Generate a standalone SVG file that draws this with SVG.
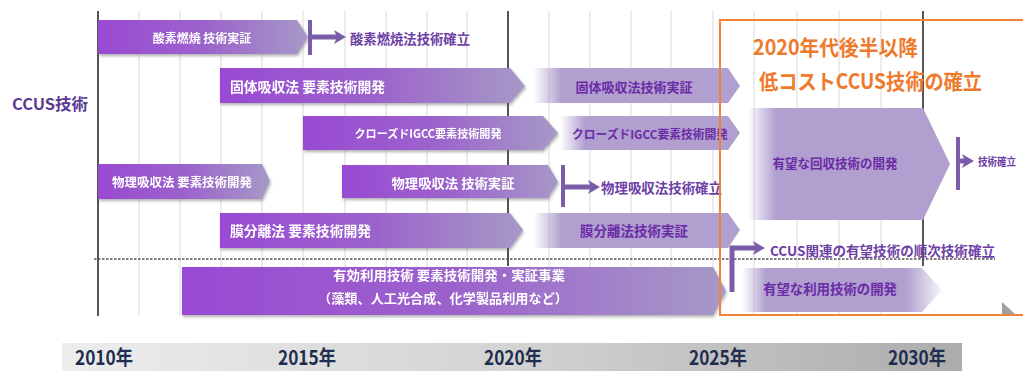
<svg xmlns="http://www.w3.org/2000/svg" width="1023" height="371" viewBox="0 0 1023 371">
<style>
text{font-family:"Noto Sans CJK JP","Noto Sans",sans-serif;}
.w{fill:#ffffff;font-weight:bold;}
.f{fill:#6B2BA6;font-weight:bold;}
.p{fill:#6E3FA6;font-weight:bold;}
.yr{fill:#1F2D4F;font-weight:bold;font-size:20px;}
.or{fill:#EE7A2C;font-weight:bold;font-size:21px;}
.grid{stroke:#d9d9d9;stroke-width:1;}
.dark{stroke:#555;stroke-width:2;}
.conn{stroke:#7B5CA8;fill:none;}
</style>
<defs>
<linearGradient id="gv" x1="0" y1="0" x2="1" y2="0">
<stop offset="0" stop-color="#994AD3"/>
<stop offset="0.5" stop-color="#9C62CC"/>
<stop offset="1" stop-color="#A699C7"/>
</linearGradient>
<linearGradient id="gf" x1="0" y1="0" x2="1" y2="0">
<stop offset="0" stop-color="#B09FCF" stop-opacity="0"/>
<stop offset="0.14" stop-color="#B09FCF" stop-opacity="1"/>
<stop offset="1" stop-color="#B09FCF" stop-opacity="1"/>
</linearGradient>
<linearGradient id="gf2" x1="0" y1="0" x2="1" y2="0">
<stop offset="0" stop-color="#B09FCF" stop-opacity="0"/>
<stop offset="0.12" stop-color="#B09FCF" stop-opacity="1"/>
<stop offset="0.82" stop-color="#B09FCF" stop-opacity="1"/>
<stop offset="1" stop-color="#B09FCF" stop-opacity="0.1"/>
</linearGradient>
<linearGradient id="gax" x1="0" y1="0" x2="1" y2="0">
<stop offset="0" stop-color="#ededed"/>
<stop offset="0.5" stop-color="#d3d3d3"/>
<stop offset="1" stop-color="#acacac"/>
</linearGradient>
<filter id="sh" x="-5%" y="-20%" width="110%" height="150%">
<feDropShadow dx="1" dy="2" stdDeviation="1.5" flood-color="#555" flood-opacity="0.45"/>
</filter>
<marker id="ah" viewBox="0 0 12 14" refX="4" refY="7" markerWidth="12" markerHeight="14" markerUnits="userSpaceOnUse" orient="auto">
<path d="M0,0 L12,7 L0,14 L3,7 Z" fill="#7B5CA8"/>
</marker>
</defs>

<rect width="1023" height="371" fill="#ffffff"/>

<g id="grid">
<line class="grid" x1="139" y1="11" x2="139" y2="315"/>
<line class="grid" x1="180" y1="11" x2="180" y2="315"/>
<line class="grid" x1="221" y1="11" x2="221" y2="315"/>
<line class="grid" x1="262" y1="11" x2="262" y2="315"/>
<line class="grid" x1="303" y1="11" x2="303" y2="315"/>
<line class="grid" x1="345" y1="11" x2="345" y2="315"/>
<line class="grid" x1="386" y1="11" x2="386" y2="315"/>
<line class="grid" x1="427" y1="11" x2="427" y2="315"/>
<line class="grid" x1="467" y1="11" x2="467" y2="315"/>
<line class="grid" x1="549" y1="11" x2="549" y2="315"/>
<line class="grid" x1="590" y1="11" x2="590" y2="315"/>
<line class="grid" x1="631" y1="11" x2="631" y2="315"/>
<line class="grid" x1="671" y1="11" x2="671" y2="315"/>
<line class="grid" x1="713" y1="11" x2="713" y2="315"/>
<line class="grid" x1="754" y1="11" x2="754" y2="315"/>
<line class="grid" x1="797" y1="11" x2="797" y2="315"/>
<line class="grid" x1="839" y1="11" x2="839" y2="315"/>
<line class="grid" x1="881" y1="11" x2="881" y2="315"/>
<line class="dark" x1="98" y1="11" x2="98" y2="316"/>
<line class="dark" x1="508" y1="11" x2="508" y2="266"/>
<line class="dark" x1="923" y1="11" x2="923" y2="266"/>
<line x1="94" y1="259" x2="995" y2="259" stroke="#555" stroke-width="1.6" stroke-dasharray="2.5 1.5"/>
</g>

<g id="label-ccus">
<text x="12" y="103" font-size="16" font-weight="bold" fill="#5A3A92" dominant-baseline="central" textLength="76" lengthAdjust="spacingAndGlyphs">CCUS技術</text>
</g>

<g id="oxy-demo" filter="url(#sh)">
<polygon points="98,20 297,20 308,37 297,54 98,54" fill="url(#gv)"/>
<text class="w" x="202" y="37" font-size="12" text-anchor="middle" dominant-baseline="central">酸素燃焼 技術実証</text>
</g>
<g id="oxy-est">
<text class="p" x="350" y="38" font-size="13.5" dominant-baseline="central" textLength="120" lengthAdjust="spacingAndGlyphs">酸素燃焼法技術確立</text>
</g>

<g id="solid-dev" filter="url(#sh)">
<polygon points="220,68 510,68 525,86 510,103 220,103" fill="url(#gv)"/>
<text class="w" x="230" y="86" font-size="14" dominant-baseline="central" textLength="155" lengthAdjust="spacingAndGlyphs">固体吸収法 要素技術開発</text>
</g>
<g id="solid-demo">
<polygon points="533,68 728,68 740,86 728,103 533,103" fill="url(#gf)"/>
<text class="f" x="634" y="86" font-size="13" text-anchor="middle" dominant-baseline="central">固体吸収法技術実証</text>
</g>

<g id="igcc-dev" filter="url(#sh)">
<polygon points="303,116 543,116 558,133 543,150 303,150" fill="url(#gv)"/>
<text class="w" x="428" y="133" font-size="11" text-anchor="middle" dominant-baseline="central" textLength="147" lengthAdjust="spacingAndGlyphs">クローズドIGCC要素技術開発</text>
</g>
<g id="igcc-next">
<polygon points="560,116 728,116 740,133 728,150 560,150" fill="url(#gf)"/>
<text class="f" x="650" y="133" font-size="12" text-anchor="middle" dominant-baseline="central" textLength="156" lengthAdjust="spacingAndGlyphs">クローズドIGCC要素技術開発</text>
</g>

<g id="phys-dev" filter="url(#sh)">
<polygon points="98,164 262,164 270,181 262,199 98,199" fill="url(#gv)"/>
<text class="w" x="182" y="181" font-size="12.5" text-anchor="middle" dominant-baseline="central" textLength="140" lengthAdjust="spacingAndGlyphs">物理吸収法 要素技術開発</text>
</g>
<g id="phys-demo" filter="url(#sh)">
<polygon points="342,165 548,165 558,182 548,198 342,198" fill="url(#gv)"/>
<text class="w" x="453" y="182" font-size="13" text-anchor="middle" dominant-baseline="central" textLength="123" lengthAdjust="spacingAndGlyphs">物理吸収法 技術実証</text>
</g>
<g id="phys-est">
<text class="p" x="601" y="187" font-size="13.5" dominant-baseline="central" textLength="121" lengthAdjust="spacingAndGlyphs">物理吸収法技術確立</text>
</g>

<g id="memb-dev" filter="url(#sh)">
<polygon points="220,213 510,213 523,230 510,248 220,248" fill="url(#gv)"/>
<text class="w" x="230" y="230" font-size="14" dominant-baseline="central" textLength="141" lengthAdjust="spacingAndGlyphs">膜分離法 要素技術開発</text>
</g>
<g id="memb-demo">
<polygon points="533,213 728,213 740,230 728,248 533,248" fill="url(#gf)"/>
<text class="f" x="634" y="230" font-size="13.5" text-anchor="middle" dominant-baseline="central">膜分離法技術実証</text>
</g>

<g id="util-dev" filter="url(#sh)">
<polygon points="182,267 713,267 726,291 713,315 182,315" fill="url(#gv)"/>
<text class="w" x="449" y="274" font-size="13" text-anchor="middle" dominant-baseline="central" textLength="232" lengthAdjust="spacingAndGlyphs">有効利用技術 要素技術開発・実証事業</text>
<text class="w" x="443" y="297" font-size="13" text-anchor="middle" dominant-baseline="central" textLength="250" lengthAdjust="spacingAndGlyphs">（藻類、人工光合成、化学製品利用など）</text>
</g>

<g id="recovery-dev">
<polygon points="748,108 923,108 950,164 923,220 748,220" fill="url(#gf)"/>
<text class="f" x="835" y="162" font-size="13" text-anchor="middle" dominant-baseline="central" textLength="125" lengthAdjust="spacingAndGlyphs">有望な回収技術の開発</text>
</g>
<g id="recovery-est">
<text class="p" x="978" y="161" font-size="11" dominant-baseline="central" textLength="38" lengthAdjust="spacingAndGlyphs">技術確立</text>
</g>

<g id="util-next">
<polygon points="742,268 922,268 942,290 922,312 742,312" fill="url(#gf2)"/>
<text class="f" x="830" y="288" font-size="13.5" text-anchor="middle" dominant-baseline="central" textLength="134" lengthAdjust="spacingAndGlyphs">有望な利用技術の開発</text>
</g>
<g id="ccus-est">
<text class="p" x="770" y="250" font-size="13.5" dominant-baseline="central" textLength="225" lengthAdjust="spacingAndGlyphs">CCUS関連の有望技術の順次技術確立</text>
</g>
<polygon points="1002,302 1016,315 1002,316" fill="#a0a0a0"/>

<g id="connectors">
<line class="conn" x1="310" y1="20" x2="310" y2="55" stroke-width="4"/>
<line class="conn" x1="310" y1="37" x2="338" y2="37" stroke-width="5" marker-end="url(#ah)"/>
<line class="conn" x1="563" y1="165" x2="563" y2="207" stroke-width="4"/>
<line class="conn" x1="563" y1="187" x2="592" y2="187" stroke-width="5" marker-end="url(#ah)"/>
<line class="conn" x1="958" y1="137" x2="958" y2="190" stroke-width="4"/>
<line class="conn" x1="958" y1="161" x2="966" y2="161" stroke-width="5" marker-end="url(#ah)"/>
<path class="conn" d="M732,292 V248 H757" stroke-width="5" marker-end="url(#ah)"/>
</g>

<g id="focus-box">
<rect x="720" y="20" width="320" height="295" fill="none" stroke="#F0823A" stroke-width="2"/>
<text class="or" x="753" y="55" textLength="165" lengthAdjust="spacingAndGlyphs">2020年代後半以降</text>
<text class="or" x="759" y="89" textLength="223" lengthAdjust="spacingAndGlyphs">低コストCCUS技術の確立</text>
</g>

<g id="axis">
<rect x="62" y="343" width="900" height="28" fill="url(#gax)"/>
<text class="yr" x="104" y="365" text-anchor="middle" textLength="58" lengthAdjust="spacingAndGlyphs">2010年</text>
<text class="yr" x="307" y="365" text-anchor="middle" textLength="58" lengthAdjust="spacingAndGlyphs">2015年</text>
<text class="yr" x="513" y="365" text-anchor="middle" textLength="58" lengthAdjust="spacingAndGlyphs">2020年</text>
<text class="yr" x="718" y="365" text-anchor="middle" textLength="58" lengthAdjust="spacingAndGlyphs">2025年</text>
<text class="yr" x="917" y="365" text-anchor="middle" textLength="58" lengthAdjust="spacingAndGlyphs">2030年</text>
</g>
</svg>
